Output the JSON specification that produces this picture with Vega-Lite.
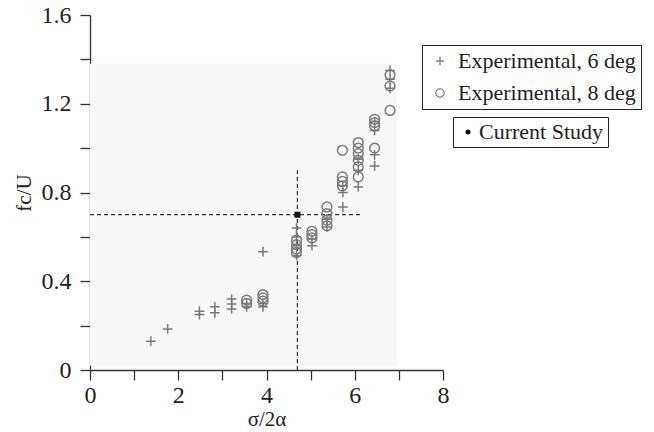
{
  "$schema": "https://vega.github.io/schema/vega-lite/v6.json",
  "autosize": "none",
  "width": 353,
  "height": 355,
  "padding": {"left": 90, "top": 15, "right": 211, "bottom": 62},
  "background": "white",
  "config": {
    "view": {"stroke": null},
    "font": "Liberation Serif",
    "axis": {
      "grid": false,
      "domainColor": "#333",
      "domainWidth": 1.3,
      "tickColor": "#333",
      "tickWidth": 1.3,
      "tickSize": 10,
      "labelFont": "Liberation Serif",
      "labelFontSize": 24,
      "labelColor": "#222",
      "titleFont": "Liberation Serif",
      "titleFontSize": 21,
      "titleFontWeight": "normal",
      "titleColor": "#222"
    },
    "legend": {
      "labelFont": "Liberation Serif",
      "labelFontSize": 22,
      "labelColor": "#222",
      "labelLimit": 400,
      "strokeColor": "#222",
      "padding": 5
    }
  },
  "datasets": {
    "bg": [{"x0": 0, "x1": 6.96, "y0": 0.02, "y1": 1.38}],
    "exp": [
      {"x": 1.38, "y": 0.13, "series": "Experimental, 6 deg"},
      {"x": 1.76, "y": 0.185, "series": "Experimental, 6 deg"},
      {"x": 2.48, "y": 0.265, "series": "Experimental, 6 deg"},
      {"x": 2.48, "y": 0.25, "series": "Experimental, 6 deg"},
      {"x": 2.83, "y": 0.285, "series": "Experimental, 6 deg"},
      {"x": 2.83, "y": 0.258, "series": "Experimental, 6 deg"},
      {"x": 3.21, "y": 0.32, "series": "Experimental, 6 deg"},
      {"x": 3.21, "y": 0.298, "series": "Experimental, 6 deg"},
      {"x": 3.21, "y": 0.275, "series": "Experimental, 6 deg"},
      {"x": 3.55, "y": 0.285, "series": "Experimental, 6 deg"},
      {"x": 3.55, "y": 0.3, "series": "Experimental, 6 deg"},
      {"x": 3.92, "y": 0.533, "series": "Experimental, 6 deg"},
      {"x": 3.92, "y": 0.285, "series": "Experimental, 6 deg"},
      {"x": 3.92, "y": 0.3, "series": "Experimental, 6 deg"},
      {"x": 4.68, "y": 0.64, "series": "Experimental, 6 deg"},
      {"x": 4.68, "y": 0.6, "series": "Experimental, 6 deg"},
      {"x": 4.68, "y": 0.56, "series": "Experimental, 6 deg"},
      {"x": 4.68, "y": 0.515, "series": "Experimental, 6 deg"},
      {"x": 5.03, "y": 0.56, "series": "Experimental, 6 deg"},
      {"x": 5.03, "y": 0.59, "series": "Experimental, 6 deg"},
      {"x": 5.37, "y": 0.645, "series": "Experimental, 6 deg"},
      {"x": 5.37, "y": 0.68, "series": "Experimental, 6 deg"},
      {"x": 5.73, "y": 0.735, "series": "Experimental, 6 deg"},
      {"x": 5.73, "y": 0.8, "series": "Experimental, 6 deg"},
      {"x": 5.73, "y": 0.83, "series": "Experimental, 6 deg"},
      {"x": 6.08, "y": 0.825, "series": "Experimental, 6 deg"},
      {"x": 6.08, "y": 0.9, "series": "Experimental, 6 deg"},
      {"x": 6.08, "y": 0.95, "series": "Experimental, 6 deg"},
      {"x": 6.45, "y": 0.92, "series": "Experimental, 6 deg"},
      {"x": 6.45, "y": 0.97, "series": "Experimental, 6 deg"},
      {"x": 6.45, "y": 1.08, "series": "Experimental, 6 deg"},
      {"x": 6.45, "y": 1.12, "series": "Experimental, 6 deg"},
      {"x": 6.8, "y": 1.35, "series": "Experimental, 6 deg"},
      {"x": 6.8, "y": 1.27, "series": "Experimental, 6 deg"},
      {"x": 6.8, "y": 1.31, "series": "Experimental, 6 deg"},
      {"x": 3.55, "y": 0.315, "series": "Experimental, 8 deg"},
      {"x": 3.55, "y": 0.3, "series": "Experimental, 8 deg"},
      {"x": 3.92, "y": 0.34, "series": "Experimental, 8 deg"},
      {"x": 3.92, "y": 0.325, "series": "Experimental, 8 deg"},
      {"x": 3.92, "y": 0.31, "series": "Experimental, 8 deg"},
      {"x": 4.68, "y": 0.585, "series": "Experimental, 8 deg"},
      {"x": 4.68, "y": 0.565, "series": "Experimental, 8 deg"},
      {"x": 4.68, "y": 0.545, "series": "Experimental, 8 deg"},
      {"x": 4.68, "y": 0.53, "series": "Experimental, 8 deg"},
      {"x": 5.03, "y": 0.625, "series": "Experimental, 8 deg"},
      {"x": 5.03, "y": 0.61, "series": "Experimental, 8 deg"},
      {"x": 5.03, "y": 0.595, "series": "Experimental, 8 deg"},
      {"x": 5.37, "y": 0.735, "series": "Experimental, 8 deg"},
      {"x": 5.37, "y": 0.705, "series": "Experimental, 8 deg"},
      {"x": 5.37, "y": 0.675, "series": "Experimental, 8 deg"},
      {"x": 5.37, "y": 0.65, "series": "Experimental, 8 deg"},
      {"x": 5.72, "y": 0.99, "series": "Experimental, 8 deg"},
      {"x": 5.72, "y": 0.87, "series": "Experimental, 8 deg"},
      {"x": 5.72, "y": 0.85, "series": "Experimental, 8 deg"},
      {"x": 5.72, "y": 0.83, "series": "Experimental, 8 deg"},
      {"x": 6.08, "y": 1.025, "series": "Experimental, 8 deg"},
      {"x": 6.08, "y": 1.0, "series": "Experimental, 8 deg"},
      {"x": 6.08, "y": 0.975, "series": "Experimental, 8 deg"},
      {"x": 6.08, "y": 0.945, "series": "Experimental, 8 deg"},
      {"x": 6.08, "y": 0.915, "series": "Experimental, 8 deg"},
      {"x": 6.08, "y": 0.87, "series": "Experimental, 8 deg"},
      {"x": 6.45, "y": 1.13, "series": "Experimental, 8 deg"},
      {"x": 6.45, "y": 1.115, "series": "Experimental, 8 deg"},
      {"x": 6.45, "y": 1.1, "series": "Experimental, 8 deg"},
      {"x": 6.45, "y": 1.0, "series": "Experimental, 8 deg"},
      {"x": 6.8, "y": 1.33, "series": "Experimental, 8 deg"},
      {"x": 6.8, "y": 1.28, "series": "Experimental, 8 deg"},
      {"x": 6.8, "y": 1.17, "series": "Experimental, 8 deg"}
    ],
    "current": [{"x": 4.7, "y": 0.7, "label": "Current Study"}],
    "hline": [{"x0": 0, "x1": 6.16, "y": 0.7}],
    "vline": [{"x": 4.7, "y0": 0, "y1": 0.9}]
  },
  "layer": [
    {
      "data": {"name": "bg"},
      "mark": {"type": "rect", "fill": "#f8f8f8", "stroke": null},
      "encoding": {
        "x": {"field": "x0", "type": "quantitative", "scale": {"domain": [0, 8], "nice": false},
          "axis": {"values": [0, 1, 2, 3, 4, 5, 6, 7, 8], "labelExpr": "datum.value % 2 == 0 ? datum.label : ''", "title": "σ/2α", "labelPadding": 3, "titlePadding": 1, "labelFlush": false}},
        "x2": {"field": "x1"},
        "y": {"field": "y0", "type": "quantitative", "scale": {"domain": [0, 1.6], "nice": false},
          "axis": {"values": [0, 0.2, 0.4, 0.6, 0.8, 1.0, 1.2, 1.4, 1.6], "format": ".1~f", "labelExpr": "abs(round(datum.value * 10) % 4) == 0 ? datum.label : ''", "title": "fc/U", "labelPadding": 9, "titlePadding": 7, "labelFlush": false}},
        "y2": {"field": "y1"}
      }
    },
    {
      "data": {"name": "hline"},
      "mark": {"type": "rule", "color": "#333", "strokeDash": [4, 3], "strokeWidth": 1.2},
      "encoding": {
        "x": {"field": "x0", "type": "quantitative"},
        "x2": {"field": "x1"},
        "y": {"field": "y", "type": "quantitative"}
      }
    },
    {
      "data": {"name": "vline"},
      "mark": {"type": "rule", "color": "#333", "strokeDash": [4, 3], "strokeWidth": 1.2},
      "encoding": {
        "x": {"field": "x", "type": "quantitative"},
        "y": {"field": "y0", "type": "quantitative"},
        "y2": {"field": "y1"}
      }
    },
    {
      "data": {"name": "exp"},
      "mark": {"type": "point", "filled": false, "stroke": "#7a7a7a", "strokeWidth": 1.5, "size": 95, "opacity": 1},
      "encoding": {
        "x": {"field": "x", "type": "quantitative"},
        "y": {"field": "y", "type": "quantitative"},
        "shape": {
          "field": "series", "type": "nominal",
          "scale": {"domain": ["Experimental, 6 deg", "Experimental, 8 deg"], "range": ["M-1,0H1M0,-1V1", "circle"]},
          "legend": {"title": null, "orient": "none", "legendX": 332, "legendY": 30, "symbolSize": 70, "symbolStrokeColor": "#555", "symbolStrokeWidth": 1, "symbolFillColor": "transparent", "rowPadding": 10, "labelOffset": 7, "symbolOffset": 2}
        }
      }
    },
    {
      "data": {"name": "current"},
      "mark": {"type": "point", "filled": true, "shape": "square", "size": 36, "opacity": 1},
      "encoding": {
        "x": {"field": "x", "type": "quantitative"},
        "y": {"field": "y", "type": "quantitative"},
        "color": {
          "field": "label", "type": "nominal",
          "scale": {"domain": ["Current Study"], "range": ["#111"]},
          "legend": {"title": null, "orient": "none", "legendX": 363, "legendY": 102, "symbolType": "circle", "symbolSize": 25, "labelOffset": 0, "padding": 4}
        }
      }
    }
  ]
}
